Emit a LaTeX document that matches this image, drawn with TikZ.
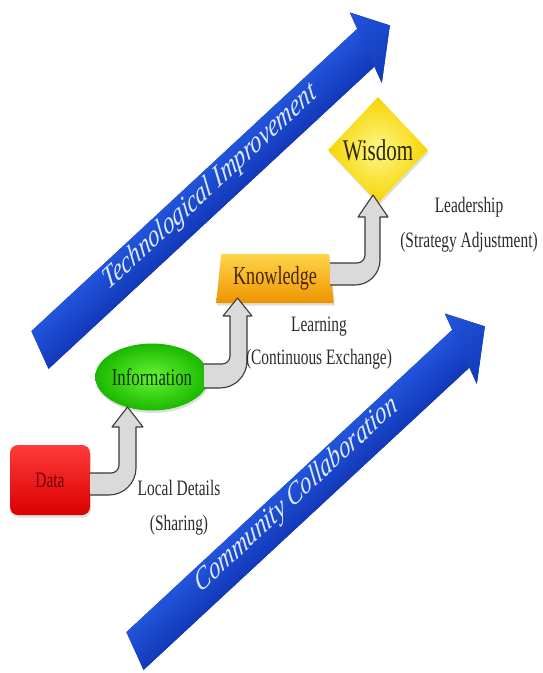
\documentclass[tikz,border=0pt]{standalone}
\usepackage{fontspec}
\setmainfont{Liberation Serif}
\usepackage{graphicx}
\usetikzlibrary{shapes.geometric,shadows}
\newcommand{\squash}[1]{\scalebox{0.7}[1]{#1}}
\definecolor{arrdark}{HTML}{1238B8}
\definecolor{arrmid}{HTML}{2B66EE}
\definecolor{arrtop}{HTML}{2255DC}
\definecolor{arrtext}{HTML}{DCEAFF}
\definecolor{grayfill}{HTML}{DADADA}
\definecolor{grayline}{HTML}{3A3A3A}
\definecolor{labeltext}{HTML}{2B2B2B}
\definecolor{redtop}{HTML}{FF3B3B}
\definecolor{redbot}{HTML}{DA0000}
\definecolor{redtext}{HTML}{6B0000}
\definecolor{greenin}{HTML}{66F533}
\definecolor{greenout}{HTML}{1AB800}
\definecolor{greentext}{HTML}{0A3300}
\definecolor{orangetop}{HTML}{FFD54A}
\definecolor{orangebot}{HTML}{EE9400}
\definecolor{orangetext}{HTML}{4A2500}
\definecolor{yellowin}{HTML}{FFF68A}
\definecolor{yellowout}{HTML}{F5D500}
\definecolor{yellowtext}{HTML}{2E2A00}
\tikzset{
  nodeshadow/.style={drop shadow={opacity=0.25,shadow xshift=1pt,shadow yshift=-2.5pt}},
  arrowtext/.style={text=arrtext,font=\fontsize{32}{38}\selectfont\itshape},
  lbl/.style={text=labeltext,align=center,inner sep=0pt},
  bentline/.style={draw=grayline,line width=1.1pt,line join=round},
  bigbody/.style={top color=arrtop,middle color=arrmid,bottom color=arrdark},
}
\begin{document}
\begin{tikzpicture}[x=1pt,y=-1pt]
\useasboundingbox (0,0) rectangle (542,673);

% Technological Improvement arrow
\begin{scope}[transform canvas={shift={(40,350)},xscale=0.7,rotate=33}]
  \fill[arrdark] (0,-22.5) -- (555,-22.5) -- (555,-42) -- (596,0) -- (555,42) -- (555,22.5) -- (0,22.5) -- cycle;
  \shade[bigbody] (0,-22.5) rectangle (556,22.5);
  \shade[bigbody] (555,-42) -- (596,0) -- (555,42) -- cycle;
  \node[arrowtext] (tech) at (292,-4) {Technological Improvement};
\end{scope}

% Community Collaboration arrow
\begin{scope}[transform canvas={shift={(135,651)},xscale=0.7,rotate=33}]
  \fill[arrdark] (0,-22.5) -- (555,-22.5) -- (555,-42) -- (596,0) -- (555,42) -- (555,22.5) -- (0,22.5) -- cycle;
  \shade[bigbody] (0,-22.5) rectangle (556,22.5);
  \shade[bigbody] (555,-42) -- (596,0) -- (555,42) -- cycle;
  \node[arrowtext] (comm) at (279,-5) {Community Collaboration};
\end{scope}

% nodes
\node[rounded corners=8pt,minimum width=80pt,minimum height=70pt,inner sep=0pt,
      top color=redtop,bottom color=redbot,text=redtext,nodeshadow] (data) at (50,480)
      {\squash{\fontsize{22}{26}\selectfont Data}};
\node[ellipse,minimum width=110pt,minimum height=67pt,inner sep=0pt,
      inner color=greenin,outer color=greenout,text=greentext,nodeshadow] (info) at (152,377)
      {\squash{\fontsize{24}{28}\selectfont Information}};
\node[trapezium,trapezium left angle=81,trapezium right angle=81,trapezium stretches=true,
      minimum width=118pt,minimum height=49pt,inner sep=0pt,
      top color=orangetop,bottom color=orangebot,text=orangetext,nodeshadow] (know) at (275,278.5)
      {\squash{\fontsize{26}{30}\selectfont Knowledge}};
\node[diamond,minimum width=100pt,minimum height=106pt,inner sep=0pt,
      inner color=yellowin,outer color=yellowout,text=yellowtext,nodeshadow] (wis) at (378,150)
      {\squash{\fontsize{30}{34}\selectfont Wisdom}};

% bent arrows
\fill[grayfill] (90,473) -- (111,473) .. controls (115.4,473) and (119,469.4) .. (119,465) -- (119,427) -- (112,427) -- (127.5,407) -- (143,427) -- (136,427) -- (136,468) .. controls (136,482.9) and (123.9,495) .. (109,495) -- (90,495) -- cycle;
\draw[bentline] (90,473) -- (111,473) .. controls (115.4,473) and (119,469.4) .. (119,465) -- (119,427) -- (112,427) -- (127.5,407) -- (143,427) -- (136,427) -- (136,468) .. controls (136,482.9) and (123.9,495) .. (109,495) -- (90,495);

\fill[grayfill] (204,364) -- (222,364) .. controls (226.4,364) and (230,360.4) .. (230,356) -- (230,316) -- (223,316) -- (237.5,298) -- (252,316) -- (247,316) -- (247,361) .. controls (247,375.9) and (234.9,388) .. (220,388) -- (204,388) -- cycle;
\draw[bentline] (204,364) -- (222,364) .. controls (226.4,364) and (230,360.4) .. (230,356) -- (230,316) -- (223,316) -- (237.5,298) -- (252,316) -- (247,316) -- (247,361) .. controls (247,375.9) and (234.9,388) .. (220,388) -- (204,388);

\fill[grayfill] (330,263) -- (357,263) .. controls (361.4,263) and (365,259.4) .. (365,255) -- (365,217) -- (358,217) -- (373,195) -- (388,217) -- (380,217) -- (380,260) .. controls (380,273.8) and (368.8,285) .. (355,285) -- (330,285) -- cycle;
\draw[bentline] (330,263) -- (357,263) .. controls (361.4,263) and (365,259.4) .. (365,255) -- (365,217) -- (358,217) -- (373,195) -- (388,217) -- (380,217) -- (380,260) .. controls (380,273.8) and (368.8,285) .. (355,285) -- (330,285);

% labels
\node[lbl] (lab1) at (179,505.5) {\squash{\fontsize{22}{35}\selectfont\begin{tabular}{@{}c@{}}Local Details\\(Sharing)\end{tabular}}};
\node[lbl] (lab2) at (319,341.5) {\squash{\fontsize{22}{33}\selectfont\begin{tabular}{@{}c@{}}Learning\\(Continuous Exchange)\end{tabular}}};
\node[lbl] (lab3) at (469,222.5) {\squash{\fontsize{22}{35}\selectfont\begin{tabular}{@{}c@{}}Leadership\\(Strategy Adjustment)\end{tabular}}};
\end{tikzpicture}
\end{document}
